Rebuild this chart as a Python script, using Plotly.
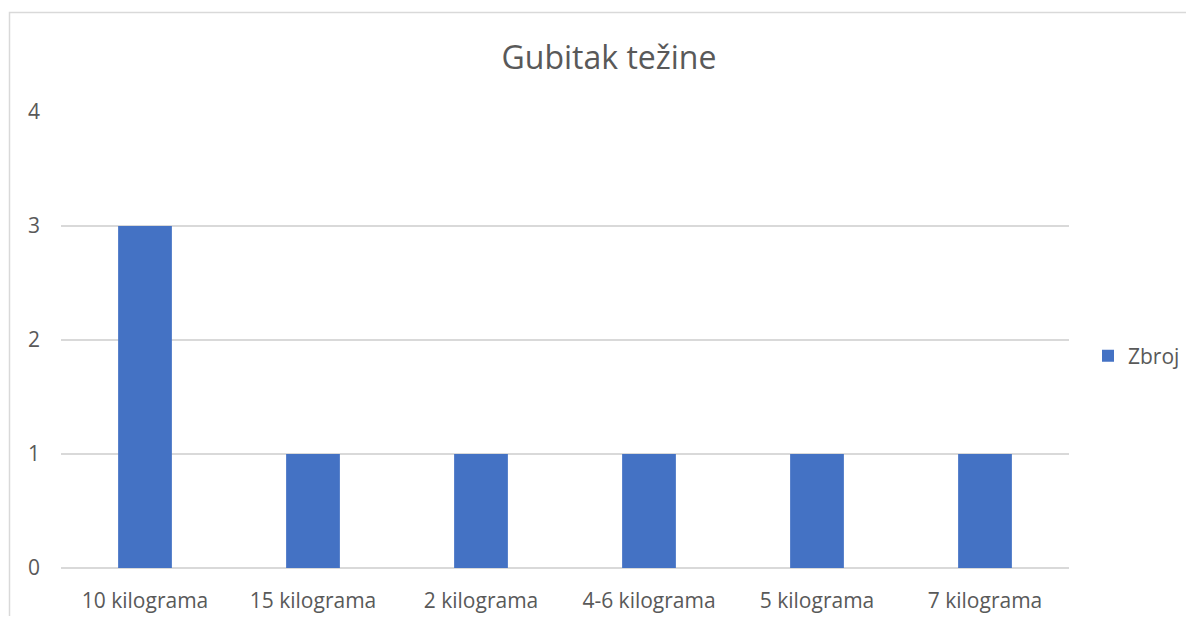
import plotly.graph_objects as go

categories = ["10 kilograma", "15 kilograma", "2 kilograma", "4-6 kilograma", "5 kilograma", "7 kilograma"]
values = [3, 1, 1, 1, 1, 1]
series_name = "Zbroj"
title_text = "Gubitak težine"
y_ticks = [0, 1, 2, 3, 4]

OFF = 8  # page body margin
W, H = 1194, 624
L, R, T, B = 61, 125, 112, 56
pw, ph = W - L - R, H - T - B
FW, FH = W - 2 * OFF, H - 2 * OFF

def px(x):
    return (x - L) / pw

def py(y):
    return (H - B - y) / ph

fig = go.Figure()
fig.add_trace(go.Bar(
    x=categories, y=values, name=series_name,
    marker=dict(color="#4472c4", line=dict(width=0)),
    width=0.32,
))

font_family = "'Open Sans', 'Noto Sans', sans-serif"
fig.update_layout(
    width=FW, height=FH,
    margin=dict(l=L - OFF, r=R - OFF, t=T - OFF, b=B - OFF, autoexpand=False),
    paper_bgcolor="white", plot_bgcolor="white",
    title=dict(text=title_text, x=(609 - OFF) / FW, xanchor="center",
               y=1 - (58 - OFF) / FH, yanchor="middle",
               font=dict(family=font_family, size=32, color="#595959")),
    showlegend=True,
    legend=dict(x=px(1088), y=py(356), xanchor="left", yanchor="middle",
                font=dict(family=font_family, size=21, color="#595959"),
                itemwidth=30, tracegroupgap=0, bgcolor="rgba(0,0,0,0)"),
    xaxis=dict(showgrid=False, showline=False, ticks="", automargin=False,
               tickfont=dict(family=font_family, size=21, color="#595959"),
               range=[-0.5, 5.5]),
    yaxis=dict(range=[0, 4], tickvals=y_ticks, showgrid=True, gridcolor="#d9d9d9",
               gridwidth=1.5, zeroline=True, zerolinecolor="#d9d9d9", zerolinewidth=1.5,
               showline=False, ticks="", ticklen=0, automargin=False,
               tickfont=dict(family=font_family, size=21, color="#595959")),
    bargap=0.68,
    shapes=[dict(type="rect", xref="paper", yref="paper",
                 x0=px(9.5), x1=px(1210), y0=py(12.5), y1=py(640),
                 line=dict(color="#d9d9d9", width=1.5), layer="below")],
)
fig.update_yaxes(ticklabelstandoff=20)
fig.update_xaxes(ticklabelstandoff=18)

fig.write_html("out.html")
